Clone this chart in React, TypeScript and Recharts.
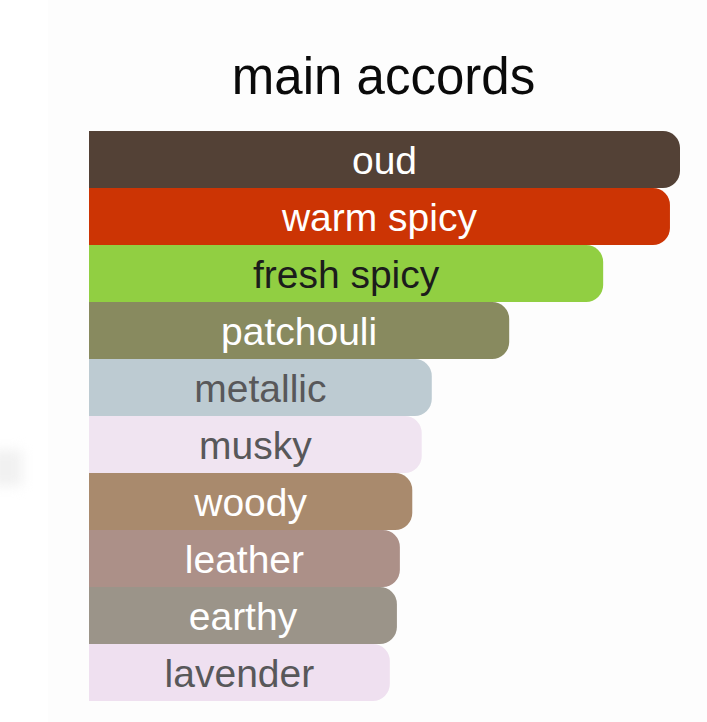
import React from "react";
import { BarChart, Bar, XAxis, YAxis, Cell, LabelList } from "recharts";

const accords = [
  "oud",
  "warm spicy",
  "fresh spicy",
  "patchouli",
  "metallic",
  "musky",
  "woody",
  "leather",
  "earthy",
  "lavender",
];
const strengths = [100, 98.3, 87.0, 71.1, 58.0, 56.3, 54.7, 52.6, 52.1, 50.9];
const barColors = [
  "#534136",
  "#cc3404",
  "#91cf42",
  "#888a5f",
  "#bdcbd2",
  "#f0e4f1",
  "#a98a6d",
  "#ac9088",
  "#9b9489",
  "#efe0f0",
];
const textColors = [
  "#ffffff",
  "#ffffff",
  "#1c1c1c",
  "#ffffff",
  "#58585a",
  "#58585a",
  "#ffffff",
  "#ffffff",
  "#ffffff",
  "#58585a",
];

const data = accords.map((name, i) => ({ name, value: strengths[i] }));

const FONT = '"Liberation Sans", Arial, Helvetica, sans-serif';

const CenterLabel = (props: any) => {
  const { x, y, width, height, index } = props;
  return (
    <text
      x={x + width / 2}
      y={y + height / 2 + 14}
      textAnchor="middle"
      fill={textColors[index]}
      fontSize={39}
      fontFamily={FONT}
    >
      {accords[index]}
    </text>
  );
};

const App = () => {
  return (
    <div
      style={{
        position: "absolute",
        left: 0,
        top: 0,
        width: 707,
        height: 722,
        background: "#ffffff",
        overflow: "hidden",
      }}
    >
      <div
        style={{
          position: "absolute",
          left: 48,
          top: 0,
          width: 659,
          height: 722,
          background: "#fdfdfd",
        }}
      />
      <div
        style={{
          position: "absolute",
          left: -10,
          top: 450,
          width: 32,
          height: 36,
          background: "#f1f1f1",
          filter: "blur(6px)",
        }}
      />
      <div
        style={{
          position: "absolute",
          left: 0,
          top: 47,
          width: 767,
          textAlign: "center",
          fontFamily: FONT,
          fontSize: 51,
          color: "#0a0a0a",
          lineHeight: "60px",
        }}
      >
        main accords
      </div>
      <div style={{ position: "absolute", left: 0, top: 0 }}>
        <BarChart
          width={707}
          height={722}
          data={data}
          layout="vertical"
          margin={{ top: 131, right: 27, bottom: 21, left: 89 }}
          barCategoryGap={0}
        >
          <XAxis type="number" domain={[0, 100]} hide />
          <YAxis type="category" dataKey="name" hide />
          <Bar
            dataKey="value"
            radius={[0, 17, 17, 0]}
            isAnimationActive={false}
          >
            {data.map((d, i) => (
              <Cell key={d.name} fill={barColors[i]} />
            ))}
            <LabelList dataKey="name" content={<CenterLabel />} />
          </Bar>
        </BarChart>
      </div>
    </div>
  );
};

export default App;
